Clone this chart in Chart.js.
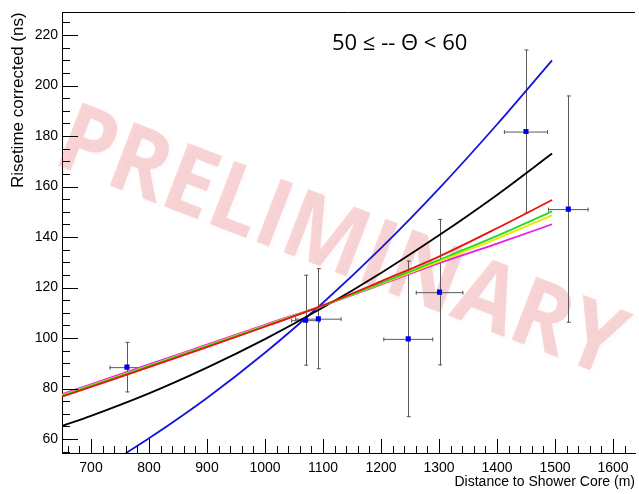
<!DOCTYPE html>
<html>
<head>
<meta charset="utf-8">
<script src="https://cdn.jsdelivr.net/npm/chart.js@4.4.0/dist/chart.umd.min.js"></script>
<style>
  html, body { margin: 0; padding: 0; background: #fff; }
  canvas { display: block; }
</style>
</head>
<body>
<canvas id="chart" width="639" height="494"></canvas>
<script>
// Puntos medidos (distancia al core, risetime) con sus errores
const ptDist = [762, 1070, 1092, 1247, 1301, 1450, 1523];
const ptRise = [88.5, 107.1, 107.7, 99.7, 118.2, 181.8, 151.1];
const ptDistErr = [30, 25, 40, 43, 41, 38, 35];
const ptRiseErr = [10, 18, 20, 31, 29, 32.5, 45];

// Curvas de ajuste
const fitDist = [650, 700, 800, 900, 1000, 1100, 1200, 1300, 1400, 1495];
const blackRise = [65.2, 69.2, 78.1, 88.3, 99.6, 112.1, 125.8, 140.7, 156.7, 173.1];
const redRise = [76.8, 80.7, 88.5, 96.4, 104.5, 113.0, 122.5, 132.3, 143.5, 154.7];
const greenRise = [77.2, 81.1, 88.9, 96.8, 104.8, 112.9, 121.8, 131.0, 140.5, 150.2];
const yellowRise = [77.4, 81.3, 89.1, 97.0, 105.0, 112.9, 121.5, 130.3, 139.4, 148.6];
const magentaRise = [77.8, 81.7, 89.6, 97.4, 105.3, 112.9, 121.2, 129.7, 137.4, 145.1];
const blueDist = [760, 800, 900, 1000, 1100, 1200, 1300, 1400, 1495];
const blueRise = [54.4, 60.3, 76.3, 94.2, 114.0, 135.6, 159.2, 184.6, 210.0];

const xTitle = 'Distance to Shower Core (m)';
const yTitle = 'Risetime corrected (ns)';
const rangeLabel = '50 ≤ -- Θ < 60';
const watermark = 'PRELIMINARY';

const sansFamily = "'Liberation Sans', Arial, sans-serif";
const tickFont = { family: sansFamily, size: 14 };

function toXY(xs, ys) {
    return xs.map((x, i) => ({ x: x, y: ys[i] }));
}

function fitLine(label, xs, ys, color, order) {
    return {
        type: 'line',
        label: label,
        data: toXY(xs, ys),
        borderColor: color,
        borderWidth: 1.8,
        pointRadius: 0,
        fill: false,
        cubicInterpolationMode: 'monotone',
        order: order
    };
}

// Marca de agua, barras de error, marco y ticks hacia dentro
const rootStyle = {
    id: 'rootStyle',
    beforeDatasetsDraw(chart) {
        const ctx = chart.ctx;
        const area = chart.chartArea;
        const xs = chart.scales.x, ys = chart.scales.y;

        ctx.save();
        ctx.translate(340, 245);
        ctx.rotate(21 * Math.PI / 180);
        ctx.scale(1, 1.08);
        ctx.font = "bold 88px 'Open Sans', 'Noto Sans', sans-serif";
        ctx.textAlign = 'center';
        ctx.textBaseline = 'middle';
        ctx.shadowColor = 'rgba(120, 120, 160, 0.18)';
        ctx.shadowBlur = 4;
        ctx.shadowOffsetX = 2;
        ctx.shadowOffsetY = 2;
        ctx.fillStyle = 'rgba(235, 50, 50, 0.2)';
        ctx.fillText(watermark, 0, 0);
        ctx.restore();

        ctx.save();
        ctx.beginPath();
        ctx.rect(area.left, area.top, area.right - area.left, area.bottom - area.top);
        ctx.clip();
        ctx.strokeStyle = '#5a5a5a';
        ctx.lineWidth = 1;
        ptDist.forEach((d, i) => {
            const cx = xs.getPixelForValue(d);
            const cy = ys.getPixelForValue(ptRise[i]);
            const x0 = xs.getPixelForValue(d - ptDistErr[i]);
            const x1 = xs.getPixelForValue(d + ptDistErr[i]);
            const y0 = ys.getPixelForValue(ptRise[i] + ptRiseErr[i]);
            const y1 = ys.getPixelForValue(ptRise[i] - ptRiseErr[i]);
            ctx.beginPath();
            ctx.moveTo(x0, cy + 0.5); ctx.lineTo(x1, cy + 0.5);
            ctx.moveTo(Math.round(cx) + 0.5, y0); ctx.lineTo(Math.round(cx) + 0.5, y1);
            // pequeños topes
            ctx.moveTo(x0 + 0.5, cy - 1.5); ctx.lineTo(x0 + 0.5, cy + 2.5);
            ctx.moveTo(x1 - 0.5, cy - 1.5); ctx.lineTo(x1 - 0.5, cy + 2.5);
            ctx.moveTo(cx - 1.5, y0 + 0.5); ctx.lineTo(cx + 2.5, y0 + 0.5);
            ctx.moveTo(cx - 1.5, y1 - 0.5); ctx.lineTo(cx + 2.5, y1 - 0.5);
            ctx.stroke();
        });
        ctx.restore();
    },
    afterDraw(chart) {
        const ctx = chart.ctx;
        const area = chart.chartArea;
        const xs = chart.scales.x, ys = chart.scales.y;

        ctx.save();
        ctx.strokeStyle = '#000';
        ctx.lineWidth = 1;
        ctx.beginPath();
        ctx.moveTo(area.left, Math.round(area.top) + 0.5);
        ctx.lineTo(area.right, Math.round(area.top) + 0.5);

        // ticks del eje Y: cada 5, mayores cada 20
        for (let v = 55; v <= 225; v += 5) {
            const py = Math.round(ys.getPixelForValue(v)) + 0.5;
            const len = (v % 20 === 0) ? 16 : 8;
            ctx.moveTo(area.left, py);
            ctx.lineTo(area.left + len, py);
        }
        // ticks del eje X: cada 20, mayores cada 100
        for (let v = 660; v <= 1630; v += 20) {
            const px = Math.round(xs.getPixelForValue(v)) + 0.5;
            const len = (v % 100 === 0) ? 14 : 7;
            ctx.moveTo(px, area.bottom);
            ctx.lineTo(px, area.bottom - len);
        }
        ctx.stroke();

        ctx.font = "22px 'Open Sans', 'Noto Sans', sans-serif";
        ctx.fillStyle = '#000';
        ctx.textAlign = 'left';
        ctx.textBaseline = 'alphabetic';
        ctx.fillText(rangeLabel, 332, 50);
        ctx.restore();
    }
};

new Chart(document.getElementById('chart'), {
    type: 'scatter',
    data: {
        datasets: [
            {
                type: 'scatter',
                label: 'data',
                data: toXY(ptDist, ptRise),
                pointStyle: 'rect',
                pointRadius: 3.6,
                backgroundColor: '#0000ee',
                borderColor: '#0000ee',
                borderWidth: 0,
                order: 0
            },
            fitLine('red', fitDist, redRise, '#ee1111', 1),
            fitLine('green', fitDist, greenRise, '#22dd22', 2),
            fitLine('yellow', fitDist, yellowRise, '#f2e600', 3),
            fitLine('magenta', fitDist, magentaRise, '#e61ee6', 4),
            fitLine('black', fitDist, blackRise, '#000000', 5),
            fitLine('blue', blueDist, blueRise, '#1515e0', 6)
        ]
    },
    options: {
        responsive: false,
        animation: false,
        layout: { padding: { top: 8, right: 0, left: 0, bottom: 0 } },
        plugins: {
            legend: { display: false },
            tooltip: { enabled: false }
        },
        scales: {
            x: {
                type: 'linear',
                position: 'bottom',
                min: 650,
                max: 1638,
                afterFit: s => { s.height = 41; },
                grid: { display: false, drawTicks: false },
                border: { display: true, color: '#000', width: 1 },
                ticks: {
                    stepSize: 100,
                    includeBounds: false,
                    autoSkip: false,
                    maxRotation: 0,
                    padding: 7,
                    color: '#000',
                    font: tickFont,
                    callback: v => String(v)
                },
                title: {
                    display: true,
                    text: xTitle,
                    align: 'end',
                    color: '#000',
                    font: { family: sansFamily, size: 14 },
                    padding: { top: 0, bottom: 3 }
                }
            },
            y: {
                type: 'linear',
                min: 54.5,
                max: 229,
                afterFit: s => { s.width = 62; },
                grid: { display: false, drawTicks: false },
                border: { display: true, color: '#000', width: 1 },
                ticks: {
                    stepSize: 20,
                    includeBounds: false,
                    padding: 4,
                    color: '#000',
                    font: tickFont,
                    callback: v => String(v)
                },
                title: {
                    display: true,
                    text: yTitle,
                    align: 'end',
                    color: '#000',
                    font: { family: sansFamily, size: 17 },
                    padding: { top: 8, bottom: 0 }
                }
            }
        }
    },
    plugins: [rootStyle]
});
</script>
</body>
</html>
